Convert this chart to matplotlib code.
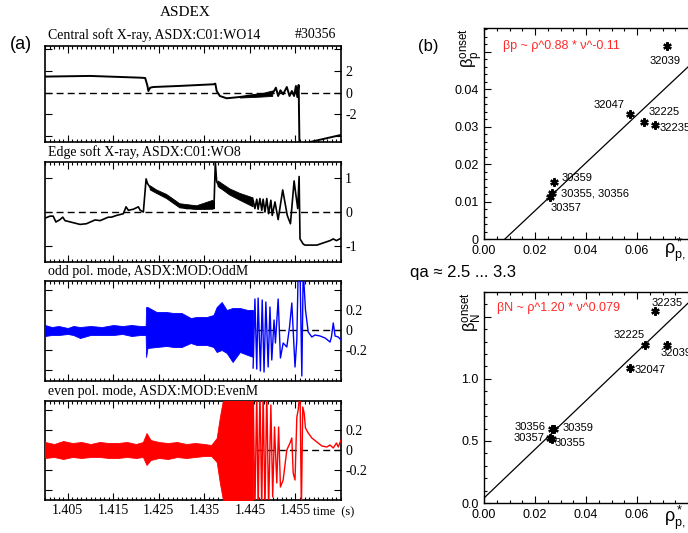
import matplotlib
matplotlib.use('Agg')
import numpy as np
import matplotlib.pyplot as plt
from matplotlib.ticker import MultipleLocator, FixedLocator

plt.rcParams['axes.unicode_minus'] = False
plt.rcParams['mathtext.fontset'] = 'custom'
plt.rcParams['mathtext.rm'] = 'Liberation Sans'
plt.rcParams['mathtext.it'] = 'Liberation Sans:italic'

SERIF = 'Liberation Serif'
SANS = 'Liberation Sans'

# ---- (a) central soft X-ray, ASDX:C01:WO14 ----
c_t = [1.4000, 1.4099, 1.4209, 1.4220, 1.4225, 1.4227, 1.4231, 1.4238, 1.4296, 1.4370,
       1.4374, 1.4377, 1.4384, 1.4399, 1.4428, 1.4457, 1.4487, 1.4501, 1.4507, 1.4512,
       1.4517, 1.4523, 1.4531, 1.4537, 1.4542, 1.4547, 1.4551, 1.4554, 1.4557, 1.4559,
       1.4575, 1.4582, 1.4650]
c_v = [1.48, 1.54, 1.38, 1.35, 0.62, 0.15, 0.46, 0.52, 0.62, 0.77,
       0.83, 0.15, -0.31, -0.52, -0.40, -0.22, -0.15, 0.0, 0.46, -0.31,
       0.22, -0.15, 0.52, -0.31, 0.15, -0.31, 0.62, -0.40, 0.71, -5.5,
       -5.0, -4.55, -3.9]
c_band_t = [1.4428, 1.4457, 1.4480, 1.4499]
c_band_hi = [-0.37, -0.20, 0.0, 0.2]
c_band_lo = [-0.45, -0.40, -0.35, -0.30]

# ---- edge soft X-ray, ASDX:C01:WO8 ----
e_t = [1.4000, 1.4011, 1.4018, 1.4024, 1.4033, 1.4039, 1.4044, 1.4062, 1.4077, 1.4091,
       1.4110, 1.4121, 1.4139, 1.4146, 1.4157, 1.4172, 1.4178, 1.4183, 1.4194, 1.4205,
       1.4209, 1.4216, 1.4222, 1.4225, 1.4231, 1.4238, 1.4245, 1.4267, 1.4282, 1.4296,
       1.4311, 1.4333, 1.4355, 1.4370, 1.4371, 1.4374, 1.4377, 1.4384, 1.4406, 1.4428,
       1.4450, 1.4457, 1.4461, 1.4465, 1.4468, 1.4472, 1.4476, 1.4479, 1.4483, 1.4487,
       1.4491, 1.4496, 1.4499, 1.4505, 1.4512, 1.4522, 1.4532, 1.4539, 1.4547, 1.4551,
       1.4555, 1.4558, 1.4560, 1.4567, 1.4571, 1.4597, 1.4626, 1.4633, 1.4640, 1.4650]
e_v = [-0.18, -0.12, -0.12, -0.29, -0.22, -0.15, -0.25, -0.31, -0.36, -0.34,
       -0.23, -0.25, -0.15, -0.15, -0.10, -0.05, 0.15, 0.05, 0.08, 0.15,
       0.05, 0.0, 0.96, 0.83, 0.71, 0.64, 0.59, 0.44, 0.34, 0.18,
       0.10, 0.13, 0.20, 0.29, 0.10, 1.45, 0.88, 0.71, 0.59, 0.44,
       0.29, 0.34, 0.10, 0.37, 0.08, 0.39, 0.05, 0.37, 0.0, 0.39,
       -0.05, 0.34, -0.10, 0.29, -0.22, 0.64, -0.10, -0.34, 0.90, 0.49,
       0.10, 1.03, -0.78, -0.93, -0.96, -0.96, -0.83, -0.78, -0.83, -0.76]
e_band_t = [1.4231, 1.4245, 1.4267, 1.4296, 1.4333, 1.4369, 1.4375, 1.4380, 1.4406, 1.4428, 1.4457]
e_band_hi = [0.76, 0.64, 0.51, 0.24, 0.18, 0.34, np.nan, 0.90, 0.67, 0.54, 0.41]
e_band_lo = [0.64, 0.54, 0.39, 0.12, 0.07, 0.08, np.nan, 0.74, 0.49, 0.34, 0.15]

# ---- odd pol. mode, ASDX:MOD:OddM ----
o_band_t = [1.4000, 1.4015, 1.4030, 1.4050, 1.4062, 1.4077, 1.4100, 1.4125, 1.4150, 1.4170,
            1.4190, 1.4210, 1.4221, 1.4222, 1.4225, 1.4245, 1.4267, 1.4282, 1.4300, 1.4320,
            1.4333, 1.4355, 1.4370, 1.4377, 1.4388, 1.4399, 1.4412, 1.4428, 1.4445, 1.4457]
o_band_hi = [0.05, 0.03, 0.04, 0.02, 0.04, 0.03, 0.04, 0.03, 0.05, 0.04,
             0.05, 0.04, 0.04, 0.23, 0.23, 0.18, 0.18, 0.17, 0.17, 0.12,
             0.13, 0.13, 0.15, 0.23, 0.28, 0.20, 0.22, 0.22, 0.20, 0.20]
o_band_lo = [-0.06, -0.05, -0.05, -0.04, -0.05, -0.08, -0.05, -0.05, -0.05, -0.04,
             -0.06, -0.05, -0.05, -0.27, -0.18, -0.17, -0.16, -0.17, -0.17, -0.13,
             -0.15, -0.15, -0.17, -0.22, -0.20, -0.23, -0.32, -0.22, -0.25, -0.27]
o_t = [1.4457, 1.4461, 1.4465, 1.4468, 1.4473, 1.4477, 1.4481, 1.4485, 1.4490, 1.4494,
       1.4498, 1.4503, 1.4506, 1.4512, 1.4517, 1.4523, 1.4531, 1.4537, 1.4542, 1.4549,
       1.4553, 1.4556, 1.4560, 1.4564, 1.4567, 1.4572, 1.4578, 1.4586, 1.4593, 1.4604,
       1.4615, 1.4626, 1.4629, 1.4633, 1.4637, 1.4644, 1.4650]
o_v = [-0.38, 0.31, -0.39, 0.32, -0.41, 0.30, -0.42, 0.28, -0.37, 0.23,
       -0.30, 0.10, -0.13, 0.31, -0.28, -0.13, -0.17, 0.03, 0.27, -0.37,
       -0.10, 0.6, 0.6, -0.46, 0.6, 0.20, -0.02, -0.07, -0.05, -0.06,
       -0.08, -0.12, -0.07, 0.07, -0.06, -0.07, -0.10]

# ---- even pol. mode, ASDX:MOD:EvenM ----
v_band_t = [1.4000, 1.4020, 1.4040, 1.4060, 1.4080, 1.4100, 1.4120, 1.4140, 1.4160, 1.4180,
            1.4200, 1.4215, 1.4223, 1.4232, 1.4250, 1.4270, 1.4290, 1.4310, 1.4330, 1.4350,
            1.4365, 1.4377, 1.4384, 1.4388, 1.4395, 1.4400, 1.4457]
v_band_hi = [0.08, 0.06, 0.09, 0.07, 0.08, 0.06, 0.08, 0.07, 0.07, 0.08,
             0.06, 0.08, 0.17, 0.10, 0.08, 0.07, 0.08, 0.06, 0.07, 0.06,
             0.05, 0.12, 0.33, 0.43, 0.6, 0.6, 0.6]
v_band_lo = [-0.08, -0.07, -0.09, -0.07, -0.08, -0.07, -0.07, -0.08, -0.08, -0.07,
             -0.08, -0.07, -0.15, -0.10, -0.08, -0.09, -0.07, -0.08, -0.07, -0.06,
             -0.06, -0.12, -0.33, -0.43, -0.6, -0.6, -0.6]
v_t = [1.4457, 1.4461, 1.4465, 1.4468, 1.4472, 1.4476, 1.4479, 1.4483, 1.4487, 1.4491,
       1.4496, 1.4500, 1.4504, 1.4509, 1.4513, 1.4517, 1.4523, 1.4531, 1.4538, 1.4542,
       1.4545, 1.4549, 1.4553, 1.4556, 1.4560, 1.4563, 1.4566, 1.4569, 1.4572, 1.4578,
       1.4586, 1.4597, 1.4608, 1.4619, 1.4626, 1.4633, 1.4640, 1.4644, 1.4650]
v_v = [0.6, -0.6, 0.6, -0.6, 0.6, -0.6, 0.6, -0.6, 0.6, -0.6,
       0.45, -0.47, 0.23, -0.33, 0.23, -0.37, -0.30, 0.0, 0.07, 0.12,
       -0.23, -0.30, 0.33, 0.40, 0.6, -0.6, 0.43, 0.37, 0.22, 0.17,
       0.12, 0.08, 0.04, 0.03, 0.05, 0.02, 0.07, 0.03, 0.10]

time_ticks = [1.405, 1.415, 1.425, 1.435, 1.445, 1.455]
time_labels = ['1.405', '1.415', '1.425', '1.435', '1.445', '1.455']

# ---- (b) onset scaling ----
rho_p = [0.0718, 0.0573, 0.0627, 0.0671, 0.0276, 0.0265, 0.0259]
beta_p = [0.0515, 0.0333, 0.0312, 0.0304, 0.0151, 0.0123, 0.0113]
shots_p = ['32039', '32047', '32225', '32235', '30359', '30355, 30356', '30357']
fit_p_x = [0.0082, 0.09]
fit_p_y = [0.0, 0.0523]

rho_n = [0.0671, 0.0631, 0.0716, 0.0573, 0.0276, 0.0265, 0.0259, 0.0265]
beta_n = [1.55, 1.27, 1.27, 1.086, 0.597, 0.597, 0.527, 0.516]
shots_n = ['32235', '32225', '32039', '32047', '30359', '30356', '30357', '30355']
fit_n_x = [0.0, 0.09]
fit_n_y = [0.04, 1.806]

# label placement (pixel offsets, alignment)
place_p = [(-18, -15, 'left'), (-6, 9, 'right'), (5, 10, 'left'), (4, -3, 'left'),
           (7, 4, 'left'), (9, -1, 'left'), (1, -11, 'left')]
place_n = [(-4, 8, 'left'), (0, 10, 'right'), (-6, -8, 'left'), (4, -2, 'left'),
           (8, 1, 'left'), (-6, 2, 'right'), (-6, 0, 'right'), (3, -4, 'left')]

W, H = 688, 533
fig = plt.figure(figsize=(W / 100, H / 100), dpi=100)


def px_axes(l, t, r, b):
    return fig.add_axes([l / W, 1 - b / H, (r - l) / W, (b - t) / H])


def setup_left(ax, ylim, yticks, ylabels, bottom_labels=False):
    ax.set_xlim(1.400, 1.465)
    ax.set_ylim(*ylim)
    ax.xaxis.set_major_locator(FixedLocator(time_ticks))
    ax.xaxis.set_minor_locator(MultipleLocator(0.001))
    ax.set_yticks(yticks)
    ax.set_yticklabels(ylabels)
    ax.tick_params(which='both', direction='in', top=True, bottom=True, left=True, right=True,
                   labelleft=False, labelright=True, labelbottom=bottom_labels, width=0.8)
    ax.tick_params(which='major', length=5, pad=3)
    ax.tick_params(which='minor', length=2.5)
    if bottom_labels:
        ax.set_xticklabels(time_labels)
    for lab in ax.get_xticklabels() + ax.get_yticklabels():
        lab.set_fontfamily(SERIF)
        lab.set_fontsize(10)
    for s in ax.spines.values():
        s.set_linewidth(1.2)
    ax.axhline(0, color='k', lw=1.0, dashes=(5, 3), zorder=1)


ax1 = px_axes(45, 46, 341, 142)
ax2 = px_axes(45, 162, 341, 262)
ax3 = px_axes(45, 281, 341, 381)
ax4 = px_axes(45, 401, 341, 500)

setup_left(ax1, (-4.55, 4.3), [-4, -2, 0, 2, 4], ['', '-2', '0', '2', ''])
setup_left(ax2, (-1.45, 1.45), [-1, 0, 1], ['-1', '0', '1'])
setup_left(ax3, (-0.51, 0.49), [-0.4, -0.2, 0, 0.2, 0.4], ['', '-0.2', '0', '0.2', ''])
setup_left(ax4, (-0.50, 0.49), [-0.4, -0.2, 0, 0.2, 0.4], ['', '-0.2', '0', '0.2', ''], True)

ax1.plot(c_t, c_v, color='k', lw=1.4, zorder=3)
ax1.fill_between(c_band_t, c_band_lo, c_band_hi, color='k', lw=0.6, zorder=3)

ax2.plot(e_t, e_v, color='k', lw=1.2, zorder=3)
ax2.fill_between(e_band_t, e_band_lo, e_band_hi, color='k', lw=0.6, zorder=3)

ax3.fill_between(o_band_t, o_band_lo, o_band_hi, color='#0000ff', lw=0.6, zorder=3)
ax3.plot(o_t, o_v, color='#0000ff', lw=1.0, zorder=3)

ax4.fill_between(v_band_t, v_band_lo, v_band_hi, color='#ff0000', lw=0.6, zorder=3)
ax4.plot(v_t, v_v, color='#ff0000', lw=1.0, zorder=3)

fig.text(185 / W, 1 - 12 / H, 'ASDEX', fontfamily=SERIF, fontsize=11, ha='center', va='center')
fig.text(21 / W, 1 - 45 / H, '(a)', fontfamily=SANS, fontsize=13, ha='center', va='center')
fig.text(48 / W, 1 - 35 / H, 'Central soft X-ray, ASDX:C01:WO14', fontfamily=SERIF, fontsize=10, va='center')
fig.text(336 / W, 1 - 35 / H, '#30356', fontfamily=SERIF, fontsize=10, ha='right', va='center')
fig.text(48 / W, 1 - 152 / H, 'Edge soft X-ray, ASDX:C01:WO8', fontfamily=SERIF, fontsize=10, va='center')
fig.text(48 / W, 1 - 272 / H, 'odd pol. mode, ASDX:MOD:OddM', fontfamily=SERIF, fontsize=10, va='center')
fig.text(48 / W, 1 - 392 / H, 'even pol. mode, ASDX:MOD:EvenM', fontfamily=SERIF, fontsize=10, va='center')
fig.text(313 / W, 1 - 512 / H, 'time  (s)', fontfamily=SERIF, fontsize=9, va='center')


def setup_right(ax, ylim, yticks, ylabels, yminor):
    ax.set_xlim(0, 0.09)
    ax.set_ylim(*ylim)
    ax.set_xticks([0, 0.02, 0.04, 0.06])
    ax.set_xticklabels(['0.00', '0.02', '0.04', '0.06'])
    ax.xaxis.set_minor_locator(MultipleLocator(0.005))
    ax.set_yticks(yticks)
    ax.set_yticklabels(ylabels)
    ax.yaxis.set_minor_locator(MultipleLocator(yminor))
    ax.tick_params(which='both', direction='in', top=True, right=True, width=0.8)
    ax.tick_params(which='major', length=5, pad=4)
    ax.tick_params(which='minor', length=2.5)
    for lab in ax.get_xticklabels() + ax.get_yticklabels():
        lab.set_fontfamily(SANS)
        lab.set_fontsize(9)
    for s in ax.spines.values():
        s.set_linewidth(1.0)


axp = px_axes(484, 28, 713.5, 239)
axn = px_axes(484, 292, 713.5, 503)
setup_right(axp, (0, 0.0563), [0, 0.01, 0.02, 0.03, 0.04, 0.05], ['0', '0.01', '0.02', '0.03', '0.04', ''], 0.002)
setup_right(axn, (0, 1.70), [0, 0.5, 1.0, 1.5], ['0.0', '0.5', '1.0', ''], 0.1)

for ax, xs, ys, names, place, fx, fy in [(axp, rho_p, beta_p, shots_p, place_p, fit_p_x, fit_p_y),
                                         (axn, rho_n, beta_n, shots_n, place_n, fit_n_x, fit_n_y)]:
    ax.plot(fx, fy, color='k', lw=0.9)
    ax.plot(xs, ys, linestyle='none', marker=(6, 2, 0), ms=6, mew=1.6, color='k')
    for x, y, name, (dx, dy, ha) in zip(xs, ys, names, place):
        ax.annotate(name, (x, y), xytext=(dx, dy), textcoords='offset pixels',
                    ha=ha, va='center', fontfamily=SANS, fontsize=8)

axp.text(0.083, 0.915, 'βp ~ ρ^0.88 * ν^-0.11', transform=axp.transAxes, color='#ff2a2a',
         fontfamily=SANS, fontsize=9, va='center')
axn.text(0.057, 0.924, 'βN ~ ρ^1.20 * ν^0.079', transform=axn.transAxes, color='#ff2a2a',
         fontfamily=SANS, fontsize=9, va='center')

fig.text(428 / W, 1 - 46 / H, '(b)', fontfamily=SANS, fontsize=12, ha='center', va='center')
fig.text(410 / W, 1 - 273 / H, 'qa ≈ 2.5 ... 3.3', fontfamily=SANS, fontsize=12, va='center')
fig.text(472 / W, 1 - 28 / H, r'$\mathrm{\beta_p^{onset}}$', fontsize=12, rotation=90, ha='center', va='top')
fig.text(472 / W, 1 - 292 / H, r'$\mathrm{\beta_N^{onset}}$', fontsize=12, rotation=90, ha='center', va='top')
fig.text(664 / W, 1 - 250 / H, r'$\mathrm{\rho^*_{p,i}}$', fontsize=13, va='center')
fig.text(664 / W, 1 - 518 / H, r'$\mathrm{\rho^*_{p,i}}$', fontsize=13, va='center')

fig.savefig('out.png', dpi=100)
